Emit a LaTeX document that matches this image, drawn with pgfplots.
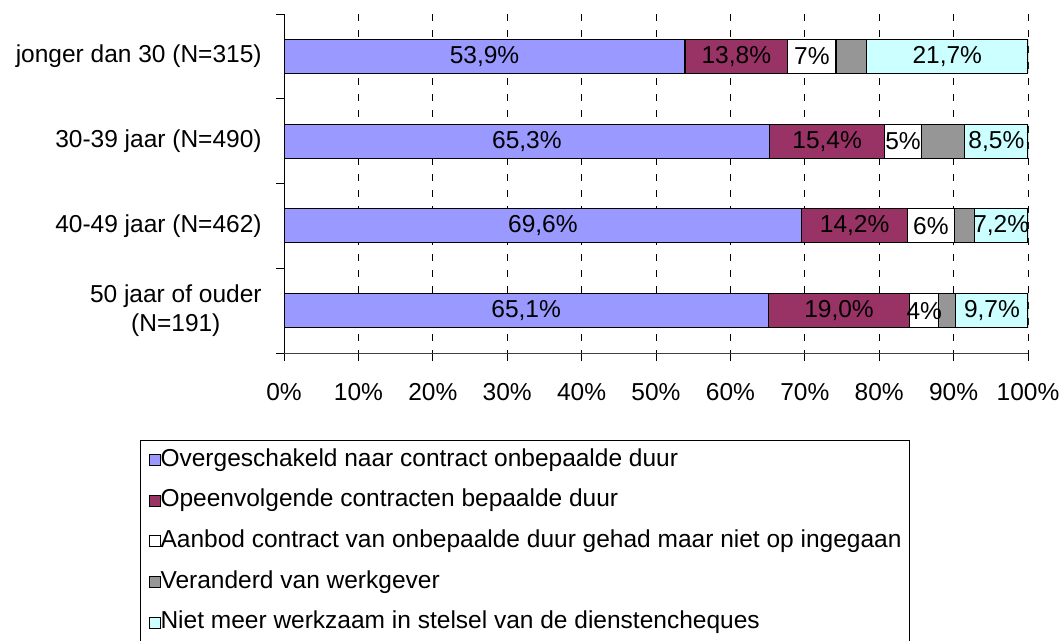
\documentclass[border=0pt]{standalone}
\usepackage{fontspec}
\setmainfont{Liberation Sans}
\usepackage{pgfplots}
\usepackage{pgfplotstable}
\pgfplotsset{compat=1.18}
\definecolor{cPurple}{HTML}{9999FF}
\definecolor{cMaroon}{HTML}{993366}
\definecolor{cGrey}{HTML}{969696}
\definecolor{cCyan}{HTML}{CCFFFF}

\pgfplotstableread{
cat v1   v2   v3  v4  v5   l1       l2       l3    l5
0   53.9 13.8 6.5 4.1 21.7 53,9\%   13,8\%   7\%   21,7\%
1   65.3 15.4 5.0 5.8 8.5  65,3\%   15,4\%   5\%   8,5\%
2   69.6 14.2 6.3 2.7 7.2  69,6\%   14,2\%   6\%   7,2\%
3   65.1 19.0 3.9 2.3 9.7  65,1\%   19,0\%   4\%   9,7\%
}\data

\pgfplotsset{
  base/.style={
    at={(284bp,-14bp)}, anchor=north west,
    width=744bp, height=339bp, scale only axis,
    xbar stacked, bar width=34bp,
    xmin=0, xmax=100, ymin=-0.5, ymax=3.5, y dir=reverse,
    enlargelimits=false,
  },
  lab/.style={
    nodes near coords, point meta=explicit symbolic,
    every node near coord/.append style={anchor=center, inner sep=0pt, text=black},
  },
}

\begin{document}
\fontsize{24.5bp}{29bp}\selectfont
\begin{tikzpicture}
\path[use as bounding box] (0,0) rectangle (1062bp,-641bp);
\begin{axis}[base,
  /pgf/number format/assume math mode=true,
  axis x line=bottom, axis y line=left,
  axis line style={-, line width=1bp},
  x axis line style={draw=black!75},
  tick align=outside, major tick length=8bp,
  tick style={line width=1bp, black},
  xtick={0,10,...,100},
  xticklabels={0\%,10\%,20\%,30\%,40\%,50\%,60\%,70\%,80\%,90\%,100\%},
  xticklabel style={yshift=-14bp},
  xmajorgrids,
  major x grid style={black, line width=1bp, dash pattern=on 7bp off 9bp},
  ytick={-0.5,0.5,1.5,2.5,3.5},
  yticklabels={,,,,},
  extra y ticks={0,1,2,3},
  extra y tick labels={jonger dan 30 (N=315),30-39 jaar (N=490),40-49 jaar (N=462),{50 jaar of ouder\\(N=191)}},
  extra y tick style={major tick length=0pt, yticklabel style={align=center, xshift=-14bp}},
  legend cell align=left,
  legend style={at={(0.324,-0.2560)}, anchor=north, draw=black, line width=1bp,
    inner sep=8bp, row sep=16.6bp,
    nodes={inner sep=0pt, text height=18bp, text depth=6bp},
    /tikz/every even column/.append style={column sep=6bp}},
  legend image code/.code={\draw[#1, line width=1bp] (0bp,-5.5bp) rectangle (11bp,5.5bp);},
]
\addplot[fill=cPurple, draw=black, line width=1.2bp] table[x=v1, y=cat] {\data};
\addplot[fill=cMaroon, draw=black, line width=1.2bp] table[x=v2, y=cat] {\data};
\addplot[fill=white, draw=black, line width=1.2bp] table[x=v3, y=cat] {\data};
\addplot[fill=cGrey, draw=black, line width=1.2bp] table[x=v4, y=cat] {\data};
\addplot[fill=cCyan, draw=black, line width=1.2bp] table[x=v5, y=cat] {\data};
\legend{Overgeschakeld naar contract onbepaalde duur,
Opeenvolgende contracten bepaalde duur,
Aanbod contract van onbepaalde duur gehad maar niet op ingegaan,
Veranderd van werkgever,
Niet meer werkzaam in stelsel van de dienstencheques}
\end{axis}
\begin{axis}[base, hide axis]
\addplot[draw=none, fill=none, lab] table[x=v1, y=cat, meta=l1] {\data};
\addplot[draw=none, fill=none, lab] table[x=v2, y=cat, meta=l2] {\data};
\addplot[draw=none, fill=none, lab] table[x=v3, y=cat, meta=l3] {\data};
\addplot[draw=none, fill=none] table[x=v4, y=cat] {\data};
\addplot[draw=none, fill=none, lab] table[x=v5, y=cat, meta=l5] {\data};
\end{axis}
\end{tikzpicture}
\end{document}
